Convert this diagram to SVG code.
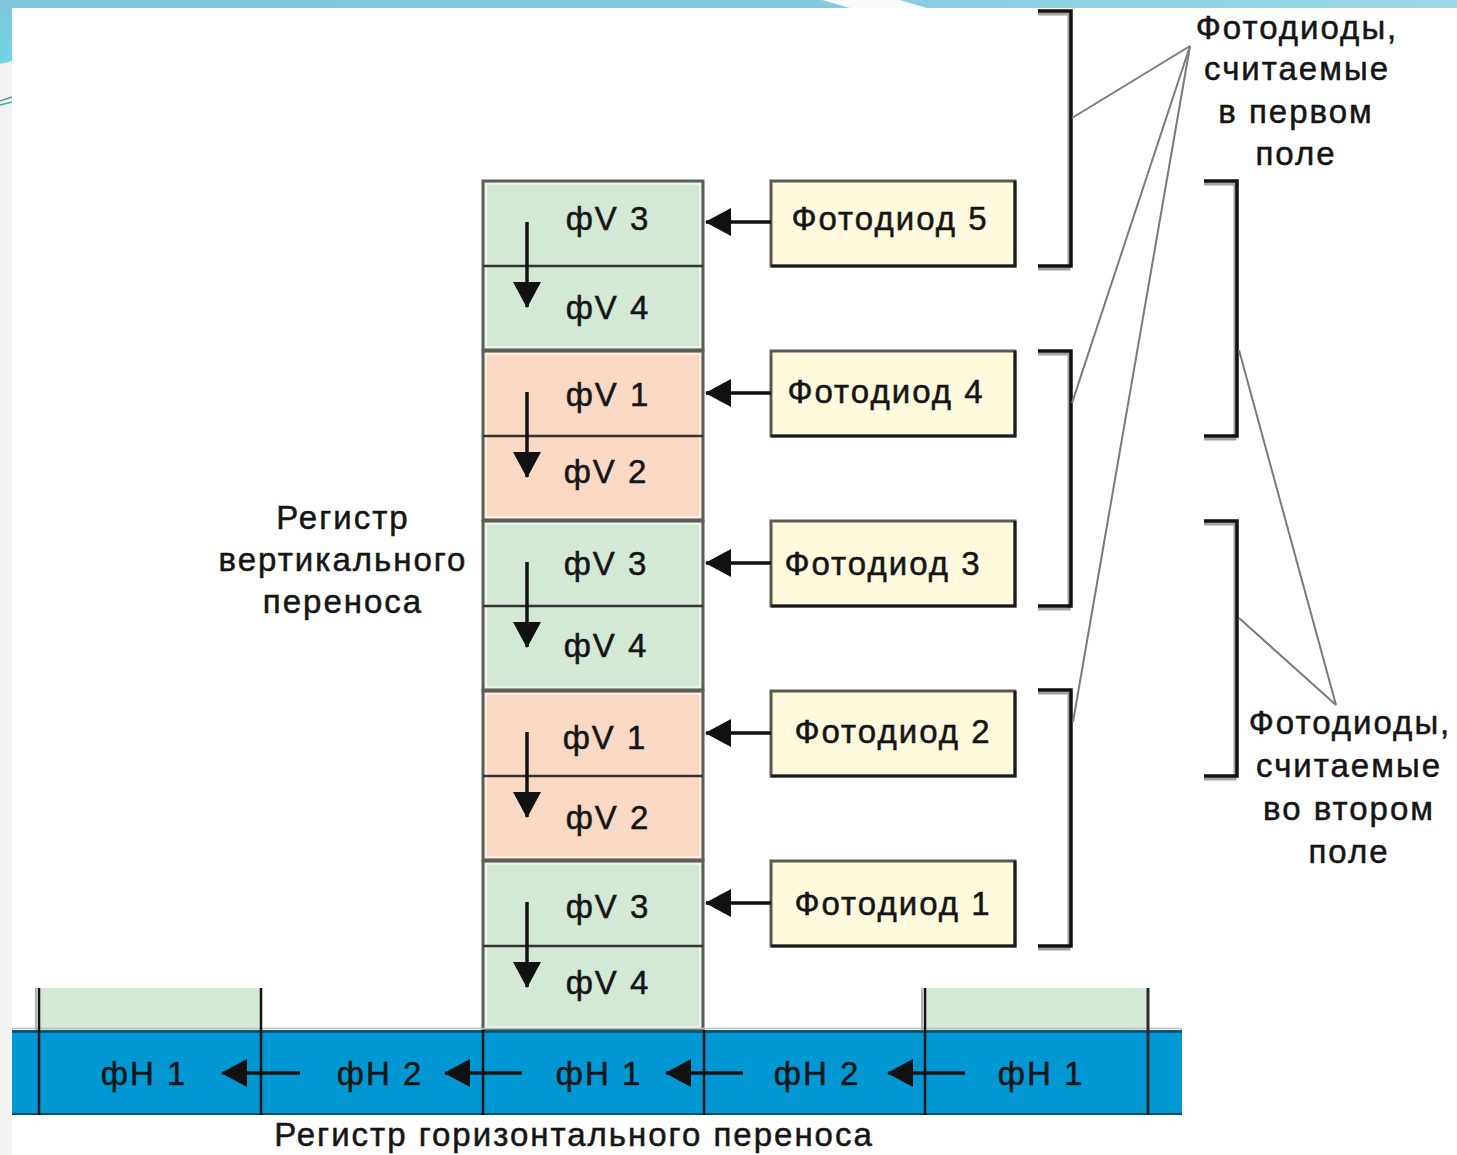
<svg xmlns="http://www.w3.org/2000/svg" width="1457" height="1155" viewBox="0 0 1457 1155">
<defs>
<linearGradient id="topbar" x1="0" y1="0" x2="1" y2="0">
<stop offset="0" stop-color="#7fc4d9"/>
<stop offset="0.55" stop-color="#85c9dd"/>
<stop offset="1" stop-color="#9cd9ea"/>
</linearGradient>
<linearGradient id="leftbar" x1="0" y1="0" x2="0" y2="1">
<stop offset="0" stop-color="#80c5da"/>
<stop offset="1" stop-color="#70d6e6"/>
</linearGradient>
<marker id="head" viewBox="0 0 26 28" refX="25" refY="14" markerWidth="26" markerHeight="28" markerUnits="userSpaceOnUse" orient="auto">
<path d="M0,0 L26,14 L0,28 Z" fill="#111"/>
</marker>
<style>
.t{font-family:"Liberation Sans",Arial,sans-serif;font-size:33px;letter-spacing:2px;fill:#151515;stroke:#151515;stroke-width:0.5;text-anchor:middle}
.cell{stroke:#5e5e58;stroke-width:3}
.green{fill:#d4e8d6}
.peach{fill:#f9d9c4}
.inset{fill:none;stroke:#ffffff;stroke-width:1.5;opacity:0.75}
.div{stroke:#333;stroke-width:2.5}
.pd{fill:#fffadd;stroke:#5a5a52;stroke-width:3}
.pdsh{fill:none;stroke:#1c1c1c;stroke-width:3}
.arr{stroke:#111;stroke-width:3.5;fill:none;marker-end:url(#head)}
.lead{stroke:#7a7a7a;stroke-width:2;fill:none}
.brk{stroke:#111;stroke-width:3.5;fill:none}
.brksh{stroke:#a2a29e;stroke-width:3;fill:none}
.vdiv{stroke:#111;stroke-width:2.5}
.vdivsh{stroke:#b4b4b0;stroke-width:2}
</style>
</defs>

<g id="background">
<rect x="0" y="0" width="1457" height="1155" fill="#ffffff"/>
<rect x="0" y="62" width="12" height="1093" fill="#f3f3f3"/>
<rect x="0" y="0" width="1457" height="8" fill="url(#topbar)"/>
<polygon points="822,0 900,0 927,8 850,8" fill="#f8fbfc"/>
<polygon points="0,0 12,0 12,61 0,64" fill="url(#leftbar)"/>
<line x1="0" y1="101" x2="12" y2="97" stroke="#6a8a90" stroke-width="1.5"/>
<line x1="0" y1="105" x2="12" y2="102" stroke="#19c3a0" stroke-width="1.5"/>
</g>

<g id="vertical-register">
<g id="vblock1">
<rect class="cell green" x="483" y="181" width="220" height="169"/>
<rect class="inset" x="486" y="184" width="214" height="163"/>
<line class="div" x1="483" y1="266" x2="703" y2="266"/>
<text class="t" x="608" y="230">фV 3</text>
<text class="t" x="608" y="319">фV 4</text>
</g>
<g id="vblock2">
<rect class="cell peach" x="483" y="351" width="220" height="169"/>
<rect class="inset" x="486" y="354" width="214" height="163"/>
<line class="div" x1="483" y1="436" x2="703" y2="436"/>
<text class="t" x="608" y="406">фV 1</text>
<text class="t" x="606" y="483">фV 2</text>
</g>
<g id="vblock3">
<rect class="cell green" x="483" y="521" width="220" height="169"/>
<rect class="inset" x="486" y="524" width="214" height="163"/>
<line class="div" x1="483" y1="606" x2="703" y2="606"/>
<text class="t" x="606" y="575">фV 3</text>
<text class="t" x="606" y="657">фV 4</text>
</g>
<g id="vblock4">
<rect class="cell peach" x="483" y="691" width="220" height="169"/>
<rect class="inset" x="486" y="694" width="214" height="163"/>
<line class="div" x1="483" y1="776" x2="703" y2="776"/>
<text class="t" x="605" y="749">фV 1</text>
<text class="t" x="608" y="829">фV 2</text>
</g>
<g id="vblock5">
<rect class="cell green" x="483" y="861" width="220" height="169"/>
<rect class="inset" x="486" y="864" width="214" height="163"/>
<line class="div" x1="483" y1="946" x2="703" y2="946"/>
<text class="t" x="608" y="918">фV 3</text>
<text class="t" x="608" y="994">фV 4</text>
</g>
</g>

<g id="photodiode5">
<rect class="pd" x="771" y="181" width="244" height="85"/>
<path class="pdsh" d="M1015,181 V266 H771"/>
<text class="t" x="890" y="230">Фотодиод 5</text>
</g>
<g id="photodiode4">
<rect class="pd" x="771" y="351" width="244" height="85"/>
<path class="pdsh" d="M1015,351 V436 H771"/>
<text class="t" x="886" y="403">Фотодиод 4</text>
</g>
<g id="photodiode3">
<rect class="pd" x="771" y="521" width="244" height="85"/>
<path class="pdsh" d="M1015,521 V606 H771"/>
<text class="t" x="883" y="575">Фотодиод 3</text>
</g>
<g id="photodiode2">
<rect class="pd" x="771" y="691" width="244" height="85"/>
<path class="pdsh" d="M1015,691 V776 H771"/>
<text class="t" x="893" y="743">Фотодиод 2</text>
</g>
<g id="photodiode1">
<rect class="pd" x="771" y="861" width="244" height="85"/>
<path class="pdsh" d="M1015,861 V946 H771"/>
<text class="t" x="893" y="915">Фотодиод 1</text>
</g>

<g id="horizontal-register">
<rect x="39" y="988" width="222" height="42" fill="#d4e8d6"/>
<rect x="925" y="988" width="223" height="42" fill="#d4e8d6"/>
<line x1="12" y1="1028.5" x2="1182" y2="1028.5" stroke="#b8c0c0" stroke-width="1.5"/>
<rect x="12" y="1030" width="1170" height="85" fill="#0197d2"/>
<line x1="12" y1="1031.5" x2="1182" y2="1031.5" stroke="#0b4d66" stroke-width="2.5"/>
<line x1="12" y1="1114" x2="1182" y2="1114" stroke="#0b4d66" stroke-width="2"/>
<line class="vdivsh" x1="36" y1="988" x2="36" y2="1030"/>
<line class="vdivsh" x1="922" y1="988" x2="922" y2="1030"/>
<line class="vdiv" x1="39" y1="988" x2="39" y2="1115"/>
<line class="vdiv" x1="261" y1="988" x2="261" y2="1115"/>
<line class="vdiv" x1="483" y1="1030" x2="483" y2="1115"/>
<line class="vdiv" x1="704" y1="1030" x2="704" y2="1115"/>
<line class="vdiv" x1="925" y1="988" x2="925" y2="1115"/>
<line x1="1148" y1="988" x2="1148" y2="1115" stroke="#2a2a2a" stroke-width="3"/>
<g id="hcell1"><text class="t" x="144" y="1085">фH 1</text></g>
<g id="hcell2"><text class="t" x="380" y="1085">фH 2</text></g>
<g id="hcell3"><text class="t" x="599" y="1085">фH 1</text></g>
<g id="hcell4"><text class="t" x="817" y="1085">фH 2</text></g>
<g id="hcell5"><text class="t" x="1041" y="1085">фH 1</text></g>
</g>

<g id="bracket-first-field">
<path class="brksh" d="M1038,14 H1069 V269 H1038"/>
<path class="brk" d="M1038,11 H1071 V266 H1038"/>
<path class="brksh" d="M1038,354 H1069 V609 H1038"/>
<path class="brk" d="M1038,351 H1071 V606 H1038"/>
<path class="brksh" d="M1038,693 H1069 V949 H1038"/>
<path class="brk" d="M1038,690 H1071 V946 H1038"/>
</g>
<g id="bracket-second-field">
<path class="brksh" d="M1204,184 H1235 V439 H1204"/>
<path class="brk" d="M1204,181 H1237 V436 H1204"/>
<path class="brksh" d="M1204,524 H1235 V779 H1204"/>
<path class="brk" d="M1204,521 H1237 V776 H1204"/>
</g>

<g id="connectors">
<line class="arr" x1="527" y1="222" x2="527" y2="307"/>
<line class="arr" x1="527" y1="392" x2="527" y2="477"/>
<line class="arr" x1="527" y1="562" x2="527" y2="647"/>
<line class="arr" x1="527" y1="732" x2="527" y2="817"/>
<line class="arr" x1="527" y1="902" x2="527" y2="987"/>
<line class="arr" x1="771" y1="222" x2="706" y2="222"/>
<line class="arr" x1="771" y1="393" x2="706" y2="393"/>
<line class="arr" x1="771" y1="563" x2="706" y2="563"/>
<line class="arr" x1="771" y1="733" x2="706" y2="733"/>
<line class="arr" x1="771" y1="903" x2="706" y2="903"/>
<line class="arr" x1="300" y1="1073" x2="222" y2="1073"/>
<line class="arr" x1="522" y1="1073" x2="445" y2="1073"/>
<line class="arr" x1="743" y1="1073" x2="666" y2="1073"/>
<line class="arr" x1="965" y1="1073" x2="888" y2="1073"/>
<line class="lead" x1="1190" y1="46" x2="1072" y2="118"/>
<line class="lead" x1="1190" y1="46" x2="1072" y2="403"/>
<line class="lead" x1="1190" y1="46" x2="1073" y2="722"/>
<line class="lead" x1="1336" y1="705" x2="1239" y2="350"/>
<line class="lead" x1="1336" y1="705" x2="1239" y2="618"/>
</g>

<g id="label-first-field">
<text class="t" x="1297" y="39">Фотодиоды,</text>
<text class="t" x="1297" y="80">считаемые</text>
<text class="t" x="1296" y="123">в первом</text>
<text class="t" x="1296" y="165">поле</text>
</g>
<g id="label-second-field">
<text class="t" x="1350" y="734">Фотодиоды,</text>
<text class="t" x="1349" y="777">считаемые</text>
<text class="t" x="1349" y="820">во втором</text>
<text class="t" x="1349" y="863">поле</text>
</g>
<g id="label-vertical">
<text class="t" x="343" y="529">Регистр</text>
<text class="t" x="343" y="571">вертикального</text>
<text class="t" x="343" y="613">переноса</text>
</g>
<g id="label-horizontal">
<text class="t" x="574" y="1146">Регистр горизонтального переноса</text>
</g>
</svg>
